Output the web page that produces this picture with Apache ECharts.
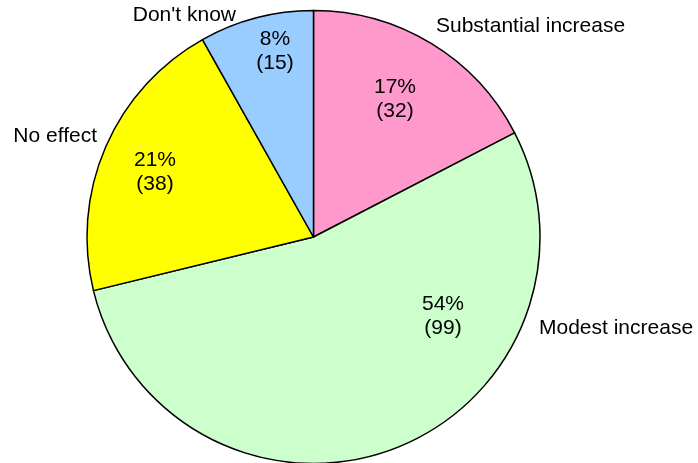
<!DOCTYPE html>
<html>
<head>
<meta charset="utf-8">
<script src="https://cdn.jsdelivr.net/npm/echarts@6/dist/echarts.min.js"></script>
<style>html,body{margin:0;padding:0;background:#fff}#c{width:698px;height:463px}</style>
</head>
<body>
<div id="c"></div>
<script>
var categories = ['Substantial increase', 'Modest increase', 'No effect', "Don't know"];
var counts = [32, 99, 38, 15];
var colors = ['#FF99CC', '#CCFFCC', '#FFFF00', '#99CCFF'];

// label anchor positions (layout only)
var innerPos = [[395, 99], [443, 316], [155, 172], [275, 51]];
var outerPos = [[436, 26, 'left'], [539, 328, 'left'], [97, 136, 'right'], [236, 15, 'right']];

var data = categories.map(function (n, i) {
  return { name: n, value: counts[i], itemStyle: { color: colors[i] } };
});
var font = 'Liberation Sans, Arial, sans-serif';
var chart = echarts.init(document.getElementById('c'), null, { renderer: 'canvas' });
chart.setOption({
  animation: false,
  series: [{
    type: 'pie',
    center: [313.5, 237],
    radius: 226.5,
    startAngle: 90,
    clockwise: true,
    silent: true,
    itemStyle: { borderColor: '#000', borderWidth: 1.5 },
    emphasis: { disabled: true },
    label: {
      show: true, position: 'inside', color: '#000', fontFamily: font, fontSize: 21, lineHeight: 24,
      formatter: function (p) { return Math.round(p.percent) + '%\n(' + p.value + ')'; }
    },
    labelLine: { show: false },
    labelLayout: function (p) {
      var q = innerPos[p.dataIndex];
      return { x: q[0], y: q[1], align: 'center', verticalAlign: 'middle' };
    },
    data: data
  }, {
    type: 'pie',
    center: [313.5, 237],
    radius: 226.5,
    startAngle: 90,
    clockwise: true,
    silent: true,
    itemStyle: { color: 'rgba(0,0,0,0)', borderWidth: 0 },
    emphasis: { disabled: true },
    label: {
      show: true, position: 'outside', color: '#000', fontFamily: font, fontSize: 21,
      overflow: 'none', width: 300,
      formatter: '{b}'
    },
    labelLine: { show: false },
    labelLayout: function (p) {
      var q = outerPos[p.dataIndex];
      return { x: q[0], y: q[1], align: q[2], verticalAlign: 'middle' };
    },
    data: categories.map(function (n, i) { return { name: n, value: counts[i] }; })
  }]
});
</script>
</body>
</html>
